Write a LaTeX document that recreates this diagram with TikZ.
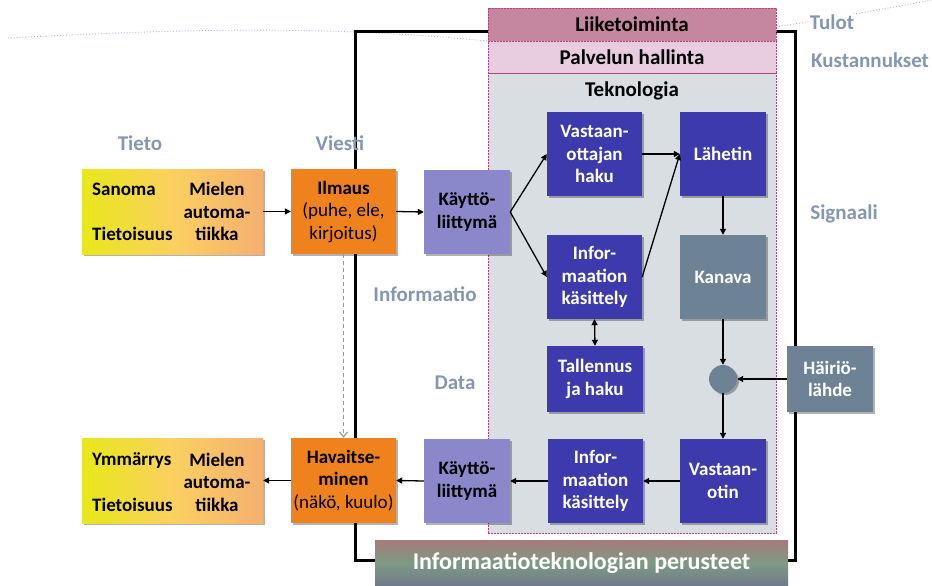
\documentclass[tikz,border=0pt]{standalone}
\usepackage{fontspec}
\setmainfont{Carlito}
\usetikzlibrary{arrows.meta,shadows}
\definecolor{dblue}{RGB}{61,58,173}
\definecolor{lpurp}{RGB}{138,135,203}
\definecolor{orng}{RGB}{240,130,30}
\definecolor{slate}{RGB}{110,130,150}
\definecolor{tekgray}{RGB}{217,222,227}
\definecolor{liicol}{RGB}{196,135,159}
\definecolor{palcol}{RGB}{232,204,224}
\definecolor{dashmag}{RGB}{176,64,128}
\definecolor{lblc}{RGB}{132,150,176}
\definecolor{yelA}{RGB}{232,232,26}
\definecolor{yelB}{RGB}{250,208,96}
\definecolor{yelC}{RGB}{245,176,112}
\definecolor{curveblue}{RGB}{160,180,230}
\definecolor{ttop}{RGB}{166,122,122}
\definecolor{tmid}{RGB}{126,154,132}
\definecolor{tbot}{RGB}{112,122,140}
\begin{document}
\begin{tikzpicture}[x=1pt,y=-1pt,
  bx/.style={draw=none, align=center, inner sep=0pt,
    font=\fontsize{19}{22.5}\selectfont\bfseries,
    drop shadow={shadow xshift=2pt,shadow yshift=-2pt,opacity=0.3,fill=black}},
  darkbox/.style={bx, fill=dblue, text=white},
  lightbox/.style={bx, fill=lpurp, text=black},
  orbox/.style={bx, fill=orng, text=black, font=\fontsize{19}{22.5}\selectfont},
  slatebox/.style={bx, fill=slate, text=white},
  yelbox/.style={bx, left color=yelA, right color=yelC, middle color=yelB},
  ytxt/.style={inner sep=0pt, align=center, font=\fontsize{19}{22.5}\selectfont\bfseries},
  lbl/.style={inner sep=0pt, font=\fontsize{21}{24}\selectfont\bfseries, text=lblc},
  layer/.style={draw=dashmag, dashed, dash pattern=on 2pt off 1pt, line width=0.7pt, inner sep=0pt},
  hdr/.style={inner sep=0pt, font=\fontsize{21}{24}\selectfont\bfseries},
  arr/.style={-{Triangle[length=6pt,width=6pt]}, line width=1.3pt},
  darr/.style={{Triangle[length=6pt,width=6pt]}-{Triangle[length=6pt,width=6pt]}, line width=1.3pt},
]
\useasboundingbox (0,0) rectangle (932,586);

% dotted curve
\draw[curveblue, dotted, line width=0.9pt] (8,38) .. controls (200,28) and (330,26) .. (488,41);
\draw[curveblue, dotted, line width=0.9pt] (776,27) .. controls (830,18) and (880,10) .. (932,0);

% frame
\node[draw=black, line width=3pt, minimum width=440pt, minimum height=528pt, inner sep=0pt] (frame) at (575,296) {};

% layers
\node[layer, fill=tekgray, minimum width=288pt, minimum height=460pt] (tek) at (632,303) {};
\node[layer, hdr, fill=liicol, minimum width=288pt, minimum height=33pt] (lii) at (632,24.5) {Liiketoiminta};
\node[layer, hdr, fill=palcol, minimum width=288pt, minimum height=32pt] (pal) at (632,57) {Palvelun hallinta};
\node[hdr] (tekl) at (632,91) {Teknologia};

% labels
\node[lbl, fill=white, inner sep=1pt] (tulot) at (832,22) {Tulot};
\node[lbl] (kust) at (870,60) {Kustannukset};
\node[lbl] (tieto) at (140,143) {Tieto};
\node[lbl] (viesti) at (340,143) {Viesti};
\node[lbl] (infl) at (425,294) {Informaatio};
\node[lbl] (datal) at (455,383) {Data};
\node[lbl] (sign) at (844,214) {Signaali};

% left column boxes
\node[yelbox, minimum width=181pt, minimum height=85pt] (yel1) at (172.5,211.5) {};
\node[ytxt, anchor=base west] (san) at (92,195.5) {Sanoma};
\node[ytxt, anchor=base west] (tie1) at (92,240.5) {Tietoisuus};
\node[ytxt] (mie1) at (217,211.5) {Mielen\\automa-\\tiikka};

\node[yelbox, minimum width=181pt, minimum height=85pt] (yel2) at (172.5,480.5) {};
\node[ytxt, anchor=base west] (ymm) at (92,465.5) {Ymmärrys};
\node[ytxt, anchor=base west] (tie2) at (92,511.5) {Tietoisuus};
\node[ytxt] (mie2) at (217,482) {Mielen\\automa-\\tiikka};

\node[orbox, minimum width=105pt, minimum height=85pt] (ilm) at (343.5,211.5) {\textbf{Ilmaus}\\(puhe, ele,\\kirjoitus)};
\node[orbox, minimum width=105pt, minimum height=85pt] (hav) at (343.5,480.5) {\textbf{Havaitse-}\\\textbf{minen}\\(näkö, kuulo)};

\node[lightbox, minimum width=86pt, minimum height=84pt] (kay1) at (467,212) {Käyttö-\\liittymä};
\node[lightbox, minimum width=86pt, minimum height=84pt] (kay2) at (467,481) {Käyttö-\\liittymä};

% technology boxes
\node[darkbox, minimum width=95pt, minimum height=84pt] (vah) at (594.5,154) {Vastaan-\\ottajan\\haku};
\node[darkbox, minimum width=86pt, minimum height=84pt] (lah) at (723,154) {Lähetin};
\node[darkbox, minimum width=95pt, minimum height=84pt] (inf1) at (594.5,277) {Infor-\\maation\\käsittely};
\node[slatebox, minimum width=86pt, minimum height=84pt] (kan) at (723,277) {Kanava};
\node[darkbox, minimum width=96pt, minimum height=66pt] (tal) at (595,379) {Tallennus\\ja haku};
\node[circle, fill=slate, minimum size=28pt, inner sep=0pt,
  drop shadow={shadow xshift=2pt,shadow yshift=-2pt,opacity=0.3,fill=black}] (cir) at (723,379) {};
\node[slatebox, minimum width=86pt, minimum height=66pt] (hai) at (830,379) {Häiriö-\\lähde};
\node[darkbox, minimum width=95pt, minimum height=84pt] (inf2) at (595.5,481) {Infor-\\maation\\käsittely};
\node[darkbox, minimum width=86pt, minimum height=84pt] (vas) at (723,481) {Vastaan-\\otin};

% title bar
\node[minimum width=413pt, minimum height=46pt, inner sep=0pt, top color=ttop, bottom color=tbot, middle color=tmid,
  text=white, font=\fontsize{24}{28}\selectfont\bfseries] (title) at (581.5,563) {Informaatioteknologian perusteet};

% connectors
\draw[arr] (yel1.east) -- (ilm.west);
\draw[arr] (ilm.east) -- (kay1.west);
\draw[arr] (kay1.east) -- (vah.west);
\draw[arr] (kay1.east) -- (inf1.west);
\draw[arr] (vah.east) -- (lah.west);
\draw[arr] (inf1.east) -- (lah.west);
\draw[arr] (lah.south) -- (kan.north);
\draw[arr] (kan.south) -- (cir.north);
\draw[arr] (hai.west) -- (cir.east);
\draw[arr] (cir.south) -- (vas.north);
\draw[darr] (inf1.south) -- (tal.north);
\draw[arr] (vas.west) -- (inf2.east);
\draw[arr] (inf2.west) -- (kay2.east);
\draw[arr] (kay2.west) -- (hav.east);
\draw[arr] (hav.west) -- (yel2.east);
\draw[gray!80, line width=1.2pt, dash pattern=on 4pt off 3pt, -{Straight Barb[length=5pt,width=8pt]}] (ilm.south) -- (hav.north);
\end{tikzpicture}
\end{document}
